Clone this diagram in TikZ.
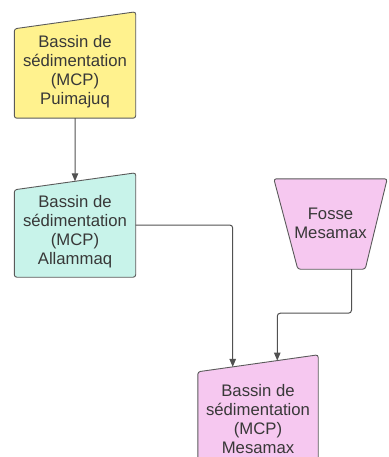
\documentclass[tikz,border=0pt]{standalone}
\usepackage{fontspec}
\setmainfont{Liberation Sans}
\usetikzlibrary{arrows.meta,calc}
\definecolor{yel}{HTML}{FFF28E}
\definecolor{cya}{HTML}{C8F3EA}
\definecolor{pnk}{HTML}{F6C8F0}
\definecolor{edge}{HTML}{5A5A5A}
\definecolor{txtc}{HTML}{383838}
\tikzset{
  frame/.style={inner sep=0pt, minimum width=121pt, draw=none},
  shapeline/.style={draw=edge, line width=0.9pt, rounded corners=2.5pt},
  label/.style={align=center, text=txtc, font=\fontsize{16.7pt}{19pt}\selectfont, inner sep=0pt},
  conn/.style={draw=edge!90!black, line width=1pt, rounded corners=3pt, -{Triangle[length=8pt,width=6.5pt]}}
}
\begin{document}
\begin{tikzpicture}[x=1pt,y=1pt]
\useasboundingbox (0,0) rectangle (388,-457);
\clip (0,0) rectangle (388,-457);
% Box 1
\node[frame, minimum height=106pt] (b1) at (75,-65) {};
\fill[yel, rounded corners=2.5pt] (b1.south west) -- ([yshift=-17pt]b1.north west) -- (b1.north east) -- (b1.south east) -- cycle;
\draw[shapeline] (b1.south west) -- ([yshift=-17pt]b1.north west) -- (b1.north east) -- (b1.south east) -- cycle;
\node[label] (t1) at ([yshift=-7pt]b1.center) {Bassin de\\sédimentation\\(MCP)\\Puimajuq};
% Box 2
\node[frame, minimum height=104pt] (b2) at (75,-225) {};
\fill[cya, rounded corners=2.5pt] (b2.south west) -- ([yshift=-17pt]b2.north west) -- (b2.north east) -- (b2.south east) -- cycle;
\draw[shapeline] (b2.south west) -- ([yshift=-17pt]b2.north west) -- (b2.north east) -- (b2.south east) -- cycle;
\node[label] (t2) at ([yshift=-7pt]b2.center) {Bassin de\\sédimentation\\(MCP)\\Allammaq};
% Fosse
\node[inner sep=0pt, minimum width=113pt, minimum height=90pt] (f) at (330.5,-224) {};
\fill[pnk, rounded corners=2.5pt] (f.north west) -- (f.north east) -- ([xshift=-22pt]f.south east) -- ([xshift=24pt]f.south west) -- cycle;
\draw[shapeline] (f.north west) -- (f.north east) -- ([xshift=-22pt]f.south east) -- ([xshift=24pt]f.south west) -- cycle;
\node[label] (tf) at ([yshift=1pt]f.center) {Fosse\\Mesamax};
% Box 3
\node[frame, minimum width=120pt, minimum height=115pt] (b3) at (258,-412.5) {};
\fill[pnk, rounded corners=2.5pt] (b3.south west) -- ([yshift=-17pt]b3.north west) -- (b3.north east) -- (b3.south east) -- cycle;
\draw[shapeline] (b3.south west) -- ([yshift=-17pt]b3.north west) -- (b3.north east) -- (b3.south east) -- cycle;
\node[label] (t3) at ([yshift=-7pt]b3.center) {Bassin de\\sédimentation\\(MCP)\\Mesamax};
% connector anchors on slanted tops
\coordinate (b2top) at ($([yshift=-17pt]b2.north west)!0.5!(b2.north east)$);
\coordinate (b3topA) at ($([yshift=-17pt]b3.north west)!0.29!(b3.north east)$);
\coordinate (b3topB) at ($([yshift=-17pt]b3.north west)!0.66!(b3.north east)$);
\coordinate (fout) at ([xshift=21pt]f.south);
% connectors
\draw[conn] (b1.south) -- (b2top);
\draw[conn] (b2.east) -| (b3topA);
\draw[conn] (fout) -- ++(0,-44) -| (b3topB);
\end{tikzpicture}
\end{document}
